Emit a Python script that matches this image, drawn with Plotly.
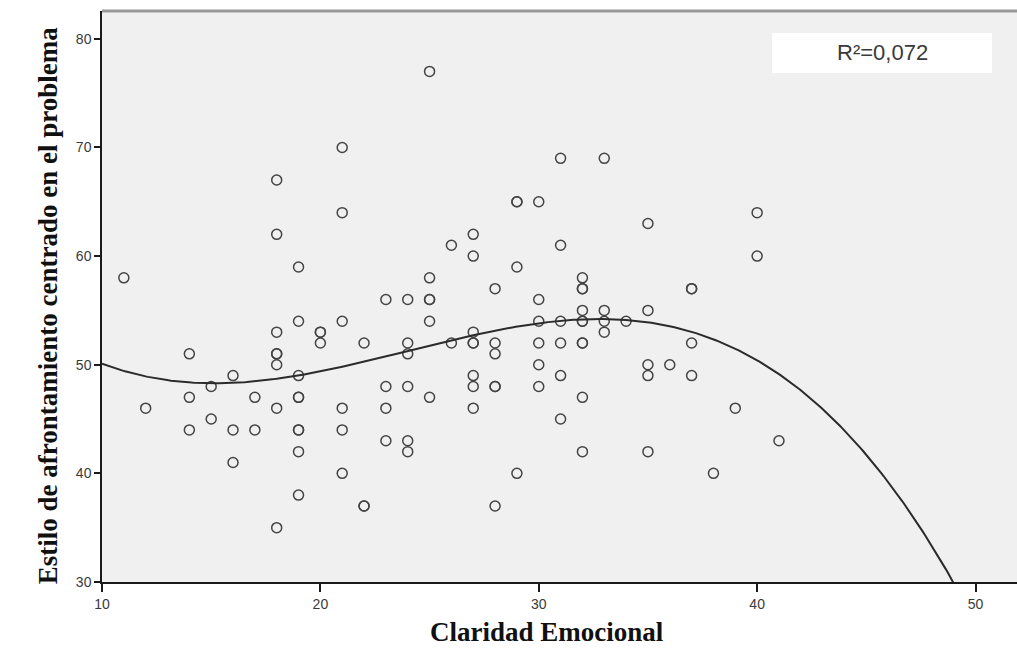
import numpy as np
import plotly.graph_objects as go

# Claridad Emocional (x) vs Estilo de afrontamiento centrado en el problema (y)
claridad = [
    11, 12, 14, 14, 14, 15, 15, 16, 16, 16, 17, 17,
    18, 18, 18, 18, 18, 18, 18, 18,
    19, 19, 19, 19, 19, 19, 19, 19, 19,
    20, 20, 20, 21, 21, 21, 21, 21, 21,
    22, 22, 22, 23, 23, 23, 23,
    24, 24, 24, 24, 24, 24,
    25, 25, 25, 25, 25, 25, 26, 26,
    27, 27, 27, 27, 27, 27, 27, 27,
    28, 28, 28, 28, 28, 28, 29, 29, 29, 29,
    30, 30, 30, 30, 30, 30, 31, 31, 31, 31, 31, 31,
    32, 32, 32, 32, 32, 32, 32, 32, 32, 32,
    33, 33, 33, 33, 34, 35, 35, 35, 35, 35, 36,
    37, 37, 37, 37, 38, 39, 40, 40, 41,
]
afrontamiento = [
    58, 46, 51, 47, 44, 48, 45, 49, 44, 41, 47, 44,
    67, 62, 53, 51, 51, 50, 46, 35,
    59, 54, 49, 47, 47, 44, 42, 38, 44,
    53, 53, 52, 70, 64, 54, 46, 44, 40,
    52, 37, 37, 56, 48, 46, 43,
    56, 52, 51, 48, 43, 42,
    77, 58, 56, 56, 54, 47, 61, 52,
    62, 60, 53, 52, 52, 49, 48, 46,
    57, 52, 51, 48, 48, 37, 65, 65, 59, 40,
    65, 56, 54, 52, 50, 48, 69, 61, 54, 52, 49, 45,
    58, 57, 57, 55, 54, 52, 52, 47, 42, 54,
    69, 55, 54, 53, 54, 63, 55, 50, 49, 42, 50,
    57, 57, 52, 49, 40, 46, 64, 60, 43,
]

x_ticks = [10, 20, 30, 40, 50]
y_ticks = [30, 40, 50, 60, 70, 80]
r2_label = "R²=0,072"

# Cubic regression line fitted to the observations
xs = np.array(claridad, dtype=float)
ys = np.array(afrontamiento, dtype=float)
coef = np.polyfit(xs, ys, 3)
x_line = np.linspace(10, 52, 400)
y_line = np.polyval(coef, x_line)

fig = go.Figure()
fig.add_trace(go.Scatter(
    x=claridad, y=afrontamiento, mode="markers",
    marker=dict(symbol="circle-open", size=10, color="#444444",
                line=dict(width=1.5, color="#444444")),
    showlegend=False, hoverinfo="x+y",
))
fig.add_trace(go.Scatter(
    x=x_line, y=y_line, mode="lines",
    line=dict(color="#2b2b2b", width=2),
    showlegend=False, hoverinfo="skip",
))

tick_font = dict(family="Liberation Sans, Arial, sans-serif", size=14, color="#3a3a3a")
title_font = dict(family="Liberation Serif, Times New Roman, serif", size=27, color="#111111")

fig.update_layout(
    width=1017, height=650,
    margin=dict(l=102, r=0, t=11, b=68),
    paper_bgcolor="white",
    plot_bgcolor="#f0f0f0",
    xaxis=dict(
        range=[10, 51.9], tickvals=x_ticks, ticktext=[str(v) for v in x_ticks],
        showgrid=False, zeroline=False, showline=True, linecolor="#1a1a1a", linewidth=2,
        ticks="outside", ticklen=8, tickwidth=1.5, tickcolor="#1a1a1a",
        tickfont=tick_font,
    ),
    yaxis=dict(
        range=[30, 82.56], tickvals=y_ticks, ticktext=[str(v) for v in y_ticks],
        showgrid=False, zeroline=False, showline=True, linecolor="#1a1a1a", linewidth=1.5,
        ticks="outside", ticklen=6, tickwidth=1.5, tickcolor="#1a1a1a",
        tickfont=tick_font,
    ),
    shapes=[
        dict(type="line", xref="paper", yref="paper", x0=0, x1=1, y0=1.0, y1=1.0,
             line=dict(color="#999999", width=3)),
        dict(type="rect", xref="paper", yref="paper", x0=0.7322, x1=0.9727,
             y0=0.8914, y1=0.9615, fillcolor="white", line=dict(width=0), layer="below"),
    ],
    annotations=[
        dict(text=r2_label, xref="paper", yref="paper", x=0.8525, y=0.9265,
             xanchor="center", yanchor="middle", showarrow=False,
             font=dict(family="Liberation Sans, Arial, sans-serif", size=22, color="#3a3a3a")),
        dict(text="<b>Claridad Emocional</b>", xref="paper", yref="paper", x=0.486, y=-0.0876,
             xanchor="center", yanchor="middle", showarrow=False, font=title_font),
        dict(text="<b>Estilo de afrontamiento centrado en el problema</b>", xref="paper",
             yref="paper", x=-0.059, y=0.483, xanchor="center", yanchor="middle",
             textangle=-90, showarrow=False, font=title_font),
    ],
)

fig.write_html("out.html")
